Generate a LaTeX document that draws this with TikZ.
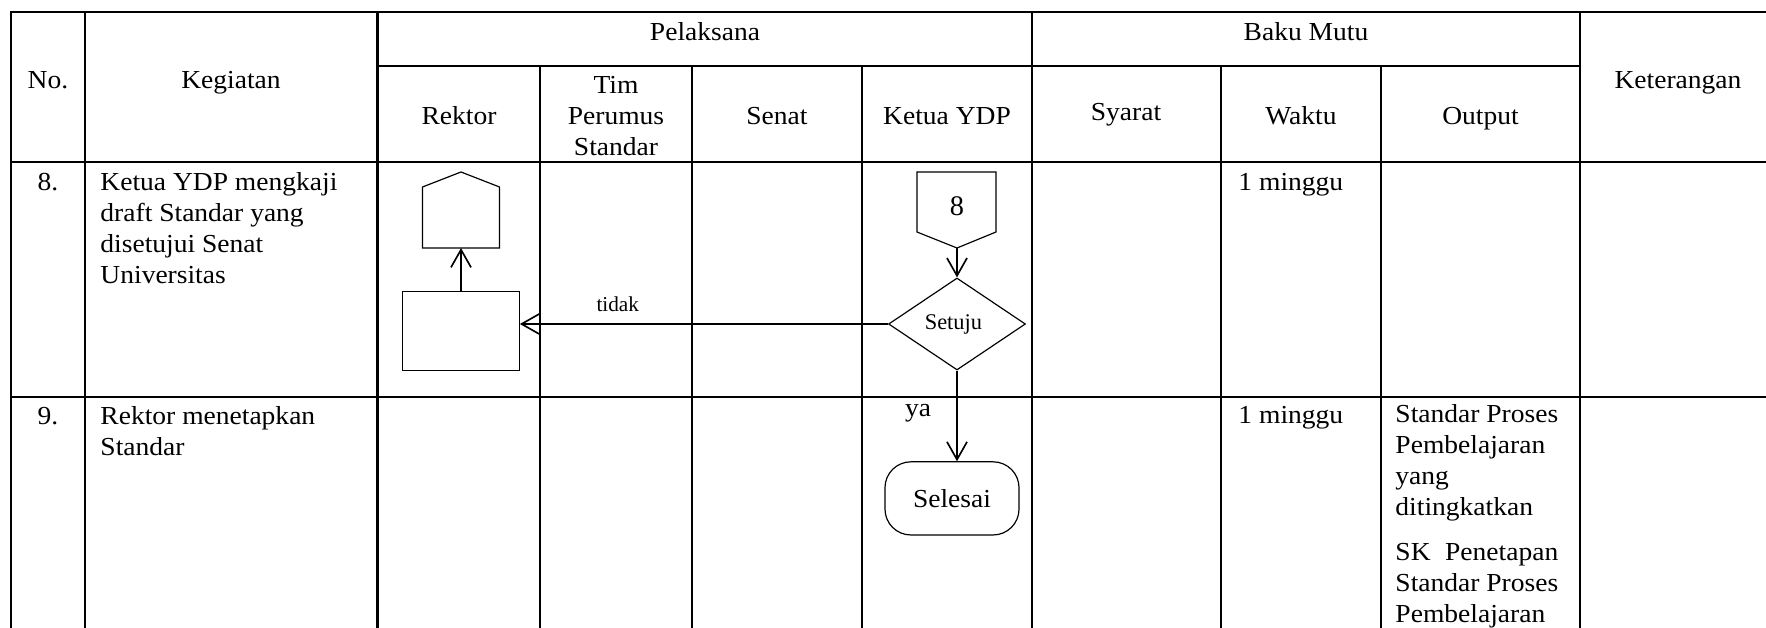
\documentclass[tikz,border=0pt]{standalone}
\usepackage{fontspec}
\setmainfont{Liberation Serif}[FakeStretch=1.06]
\newfontfamily\tnr{Liberation Serif}
\usetikzlibrary{arrows.meta,shapes.geometric}
\newlength\spw
\newcommand\cellfont{\fontsize{11pt}{13.1pt}\selectfont}
\begin{document}
\begin{tikzpicture}[x=0.4237pt,y=-0.4237pt,
  grid/.style={line width=1.05pt,line cap=rect},
  box/.style={draw,line width=0.5pt,inner sep=0pt},
  flow/.style={line width=0.7pt,-{Straight Barb[length=7.5pt,width=8.5pt]}},
  txt/.style={inner sep=0pt,font=\cellfont},
  lbl/.style={inner sep=0pt,font=\tnr\fontsize{9pt}{10pt}\selectfont}]
\useasboundingbox (0,0) rectangle (1766,628);
\clip (0,0) rectangle (1766,628);
% table rules
\draw[grid] (11,12) -- (1790,12);
\draw[grid] (377.5,66) -- (1580,66);
\draw[grid] (11,162) -- (1790,162);
\draw[grid] (11,397) -- (1790,397);
\foreach \x in {11,85,377.5,1032,1580,1776} \draw[grid] (\x,12) -- (\x,640);
\foreach \x in {540,692,862,1221,1381} \draw[grid] (\x,66) -- (\x,640);
% header
\node[txt,anchor=base] (hno) at (48,89) {No.};
\node[txt,anchor=base] (hkeg) at (231,89) {Kegiatan};
\node[txt,anchor=base] (hpel) at (705,40.7) {Pelaksana};
\node[txt,anchor=base] (hbaku) at (1306,40.7) {Baku Mutu};
\node[txt,anchor=base] (hket) at (1678,89) {Keterangan};
\node[txt,anchor=base] (hrek) at (459,125) {Rektor};
\node[txt,anchor=base,align=center] (htim) at (616,155.7) {Tim\\Perumus\\Standar};
\node[txt,anchor=base] (hsen) at (777,125) {Senat};
\node[txt,anchor=base] (hkyd) at (947,125) {Ketua YDP};
\node[txt,anchor=base] (hsya) at (1126,121) {Syarat};
\node[txt,anchor=base] (hwak) at (1301,125) {Waktu};
\node[txt,anchor=base] (hout) at (1480.5,125) {Output};
% row 8
\node[txt,anchor=base] (n8) at (48,190.7) {8.};
\node[txt,anchor=base west,align=left] (k8) at (100,283.5) {Ketua YDP mengkaji\\draft Standar yang\\disetujui Senat\\Universitas};
\node[txt,anchor=base west] (w8) at (1238,190.7) {1 minggu};
% row 9
\node[txt,anchor=base] (n9) at (48,424.5) {9.};
\node[txt,anchor=base west,align=left] (k9) at (100,455.4) {Rektor menetapkan\\Standar};
\node[txt,anchor=base west] (w9) at (1238,424) {1 minggu};
\node[txt,anchor=base west,align=left] (o9) at (1395,622) {Standar Proses\\Pembelajaran\\yang\\ditingkatkan\\[6pt]\settowidth{\spw}{Standar Proses}\makebox[\spw][s]{SK Penetapan}\\Standar Proses\\Pembelajaran};
% flow shapes
\draw[box] (422.5,187) -- (461,172) -- (499.5,187) -- (499.5,248) -- (422.5,248) -- cycle;
\coordinate (cA) at (461,248);
\node[box,minimum width=49.4pt,minimum height=33.2pt] (rk) at (461,331) {};
\draw[box] (917,172) -- (996,172) -- (996,232) -- (957,248) -- (917,232) -- cycle;
\coordinate (cB) at (957,248);
\node[inner sep=0pt,font=\tnr\fontsize{12pt}{14pt}\selectfont] (c8) at (957,206.7) {8};
\node[box,diamond,minimum width=58pt,minimum height=39pt,font=\tnr\fontsize{9.5pt}{10pt}\selectfont] (dia) at (957,324) {\raisebox{-2pt}{Setuju}\hspace*{3pt}};
\node[box,rounded corners=11pt,minimum width=56.8pt,minimum height=31pt,font=\cellfont] (sel) at (952,498.4) {Selesai};
% connectors
\draw[flow] (rk.north) -- (cA);
\draw[flow] (dia.west) -- node[lbl,above=4.9pt,pos=0.734] (tidak) {tidak} (dia.west -| rk.east);
\draw[flow] (cB) -- (dia.north);
\draw[flow] (dia.south) -- (dia.south |- sel.north);
\node[txt,anchor=base] (ya) at (918,417) {ya};
\end{tikzpicture}
\end{document}
